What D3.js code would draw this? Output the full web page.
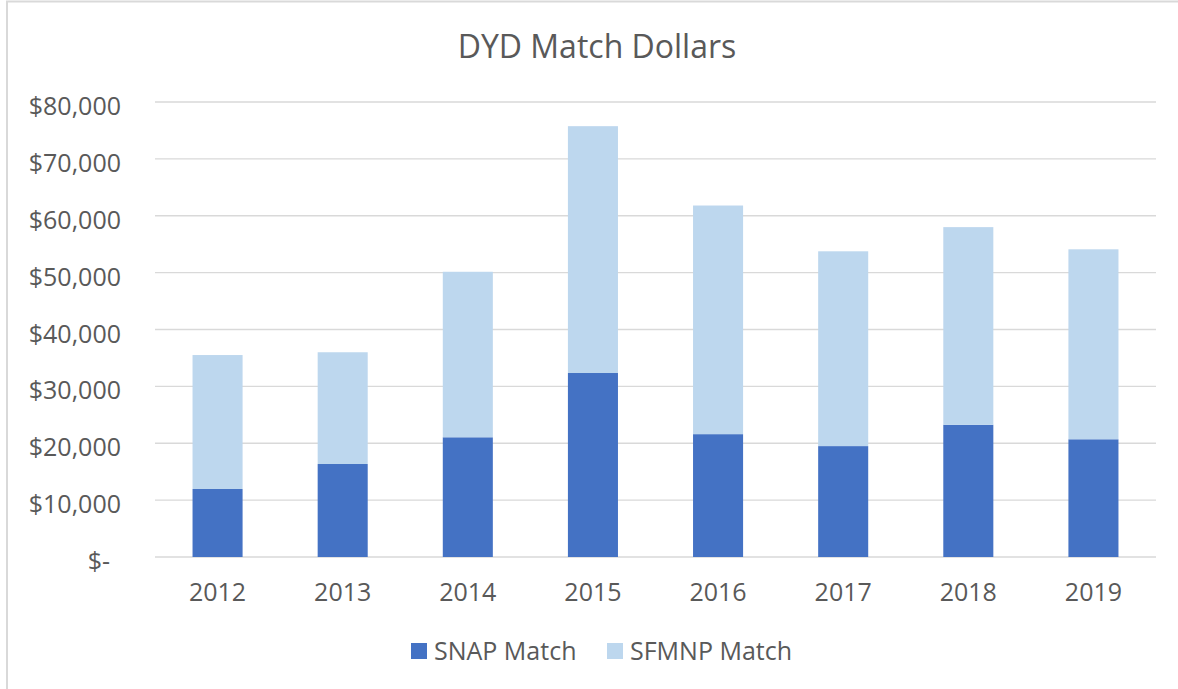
<!DOCTYPE html>
<html>
<head>
<meta charset="utf-8">
<script src="https://cdn.jsdelivr.net/npm/d3@7"></script>
<style>
  body { margin: 0; background: #fff; }
  text { font-family: "Open Sans", sans-serif; fill: #595959; }
</style>
</head>
<body>
<div id="chart"></div>
<script>
// Data
var years = ["2012", "2013", "2014", "2015", "2016", "2017", "2018", "2019"];
var snapMatch = [11960, 16350, 21050, 32350, 21600, 19500, 23250, 20700];
var sfmnpMatch = [23550, 19650, 29100, 43400, 40200, 34250, 34750, 33400];
var seriesNames = ["SNAP Match", "SFMNP Match"];
var seriesColors = ["#4472C4", "#BDD7EE"];
var yTicks = [0, 10000, 20000, 30000, 40000, 50000, 60000, 70000, 80000];

// SVG area
var svgWidth = 1178;
var svgHeight = 689;

var margin = { top: 102, right: 22, bottom: 132, left: 155 };
var chartWidth = svgWidth - margin.left - margin.right;
var chartHeight = svgHeight - margin.top - margin.bottom;

var svg = d3.select("#chart")
  .append("svg")
  .attr("width", svgWidth)
  .attr("height", svgHeight);

// chart border
svg.append("rect")
  .attr("x", 7)
  .attr("y", 1.5)
  .attr("width", svgWidth + 10)
  .attr("height", svgHeight + 10)
  .attr("fill", "none")
  .attr("stroke", "#d9d9d9")
  .attr("stroke-width", 2);

var chartGroup = svg.append("g")
  .attr("transform", `translate(${margin.left}, ${margin.top})`);

// stacked table
var table = years.map(function(y, i) {
  return { year: y, snap: snapMatch[i], sfmnp: sfmnpMatch[i] };
});
var stack = d3.stack().keys(["snap", "sfmnp"]);
var stacked = stack(table);

// scales
var xScale = d3.scaleBand()
  .domain(years)
  .range([0, chartWidth])
  .paddingInner(0.6)
  .paddingOuter(0.3);

var yScale = d3.scaleLinear()
  .domain([0, 80000])
  .range([chartHeight, 0]);

// gridlines
chartGroup.append("g")
  .selectAll("line")
  .data(yTicks)
  .enter()
  .append("line")
  .attr("x1", 0)
  .attr("x2", chartWidth)
  .attr("y1", d => yScale(d))
  .attr("y2", d => yScale(d))
  .attr("stroke", "#d9d9d9")
  .attr("stroke-width", 1.3);

// bars
chartGroup.selectAll(".series")
  .data(stacked)
  .enter()
  .append("g")
  .attr("class", "series")
  .attr("fill", (d, i) => seriesColors[i])
  .selectAll("rect")
  .data(d => d)
  .enter()
  .append("rect")
  .attr("x", d => xScale(d.data.year))
  .attr("width", xScale.bandwidth())
  .attr("y", d => yScale(d[1]))
  .attr("height", d => yScale(d[0]) - yScale(d[1]));

// y axis
var leftAxis = d3.axisLeft(yScale)
  .tickValues(yTicks)
  .tickSize(0)
  .tickPadding(0)
  .tickFormat(d => d === 0 ? "$-" : "$" + d3.format(",")(d));

var yAxis = chartGroup.append("g")
  .call(leftAxis);
yAxis.select(".domain").remove();
yAxis.selectAll("text")
  .attr("x", -34)
  .attr("dy", "0.5em")
  .attr("font-size", "25px")
  .style("fill", "#595959")
  .style("font-family", "Open Sans, sans-serif");
yAxis.selectAll(".tick")
  .filter(d => d === 0)
  .select("text")
  .attr("x", -45);

// x axis
var bottomAxis = d3.axisBottom(xScale).tickSize(0).tickPadding(26);
var xAxis = chartGroup.append("g")
  .attr("transform", `translate(0, ${chartHeight})`)
  .call(bottomAxis);
xAxis.select(".domain").remove();
xAxis.selectAll("text")
  .attr("font-size", "25px")
  .style("fill", "#595959")
  .style("font-family", "Open Sans, sans-serif");

// title
svg.append("text")
  .attr("x", 597)
  .attr("y", 58)
  .attr("text-anchor", "middle")
  .attr("font-size", "32px")
  .text("DYD Match Dollars");

// legend
var legendX = [411, 607];
var legend = svg.selectAll(".legend")
  .data(seriesNames)
  .enter()
  .append("g")
  .attr("class", "legend")
  .attr("transform", (d, i) => `translate(${legendX[i]}, 643)`);

legend.append("rect")
  .attr("width", 16)
  .attr("height", 16)
  .attr("fill", (d, i) => seriesColors[i]);

legend.append("text")
  .attr("x", 23)
  .attr("y", 17)
  .attr("font-size", "25px")
  .text(d => d);
</script>
</body>
</html>
